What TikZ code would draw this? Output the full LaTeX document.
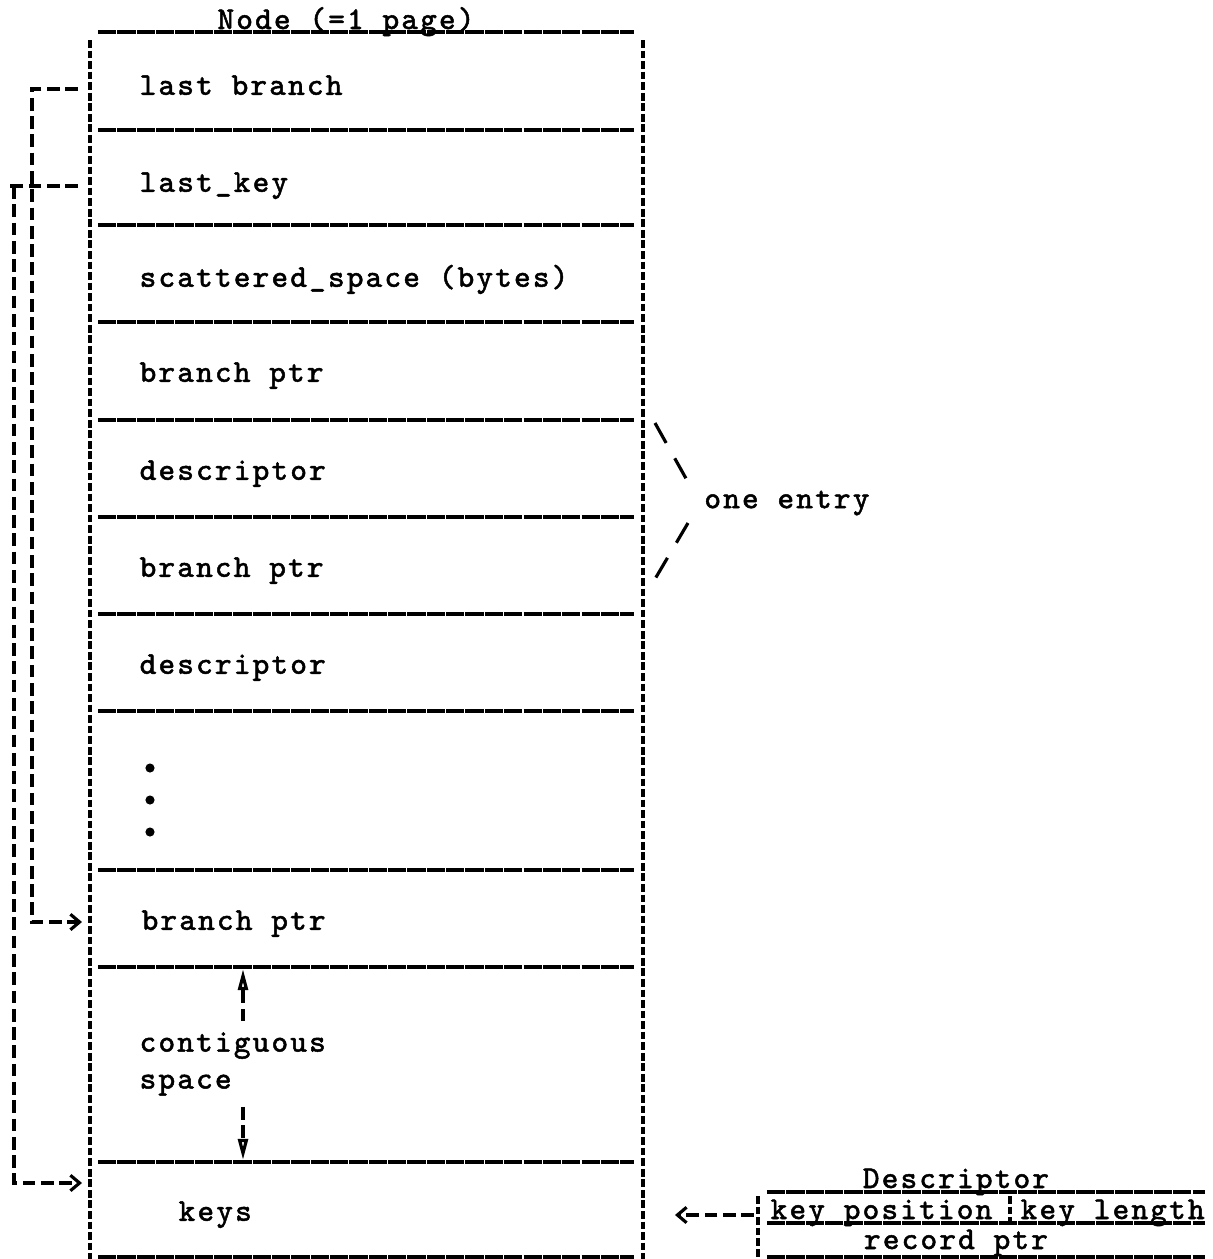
\documentclass[tikz,border=0pt]{standalone}
\usepackage{fontspec}
\setmonofont[LetterSpace=7,FakeBold=1.5]{Latin Modern Mono}
\usetikzlibrary{arrows.meta}

\tikzset{
  field/.style={anchor=west,inner sep=0pt,text height=7pt,text depth=2pt},
  border/.style={line width=0.9pt,dash pattern=on 2.2pt off 0.8pt},
  rowline/.style={line width=1pt,dash pattern=on 5.2pt off 0.3pt},
  link/.style={line width=0.9pt,dash pattern=on 3.6pt off 1.6pt},
  chev/.style={-{Straight Barb[length=2.6pt,width=4.4pt]}},
  gaptip/.style={-{Triangle[open,length=6pt,width=2.8pt]}},
  slash/.style={line width=0.9pt,dash pattern=on 6.5pt off 5pt},
}

\begin{document}
\begin{tikzpicture}[x=0.01cm,y=-0.01cm,font=\ttfamily\fontsize{9}{10.5}\selectfont]
\useasboundingbox (0,0) rectangle (1213,1259);

% the page: two dashed sides and one line under every field
\draw[border] (90,40) -- (90,1259);
\draw[border] (643,40) -- (643,1259);
\foreach \y in {32,130,225,322,420,517,614,711,870,967,1162,1257}
  \draw[rowline] (98,\y) -- (634,\y);

\node[anchor=base] (title) at (346,29) {Node (=1 page)};

\node[field] (lastbranch) at (139,86) {last branch};
\node[field] (lastkey) at (139,183) {last\_key};
\node[field] (scattered) at (139,278) {scattered\_space (bytes)};
\node[field] (bptr1) at (139,373) {branch ptr};
\node[field] (desc1) at (139,471) {descriptor};
\node[field] (bptr2) at (139,568) {branch ptr};
\node[field] (desc2) at (139,665) {descriptor};
\foreach \y in {768,800,832}
  \fill (150,\y) circle (1.3pt);
\node[field] (bptrn) at (141,921) {branch ptr};
\node[anchor=west,align=left,inner sep=0pt] (space) at (139,1064) {contiguous\\space};
\node[field] (keys) at (178,1212) {keys};

% free space between last branch ptr and keys
\coordinate (gaptop) at (243,969);
\coordinate (gapbot) at (243,1160);
\draw[link,gaptip,shorten <=3pt] (space.north -| gaptop) -- (gaptop);
\draw[link,gaptip,shorten <=3pt] (space.south -| gapbot) -- (gapbot);

% pointers kept in the header
\coordinate (lbport) at (78,89);
\coordinate (lkport) at (78,186);
\coordinate (bpport) at (82,922);
\coordinate (kport) at (82,1183);
\draw[link,chev] (lbport) -- (32,89) |- (bpport);
\draw[link,chev] (lkport) -- (8,186) (14,186) |- (kport);

% one entry = branch ptr + descriptor
\node[anchor=west] (entry) at (692,503) {one entry};
\draw[slash] (655,423) -- (688,482);
\draw[slash] (688,523) -- (655,579);

% layout of a descriptor
\node[anchor=base] (dtitle) at (956,1188) {Descriptor};
\node[anchor=base west,inner sep=0pt] (keypos) at (770,1219) {key position};
\node[anchor=base west,inner sep=0pt] (keylen) at (1020,1219) {key length};
\node[anchor=base] (recptr) at (956,1249) {record ptr};
\draw[rowline] (767,1192) -- (1205,1192);
\draw[rowline] (767,1223) -- (1205,1223);
\draw[rowline] (767,1257) -- (1205,1257);
\draw[border] (758,1196) -- (758,1259);
\draw[border] (1010,1196) -- (1010,1223);
\coordinate (dport) at (754,1215);
\coordinate (keysport) at (675,1215);
\draw[link,chev] (dport) -- (keysport);

\end{tikzpicture}
\end{document}
